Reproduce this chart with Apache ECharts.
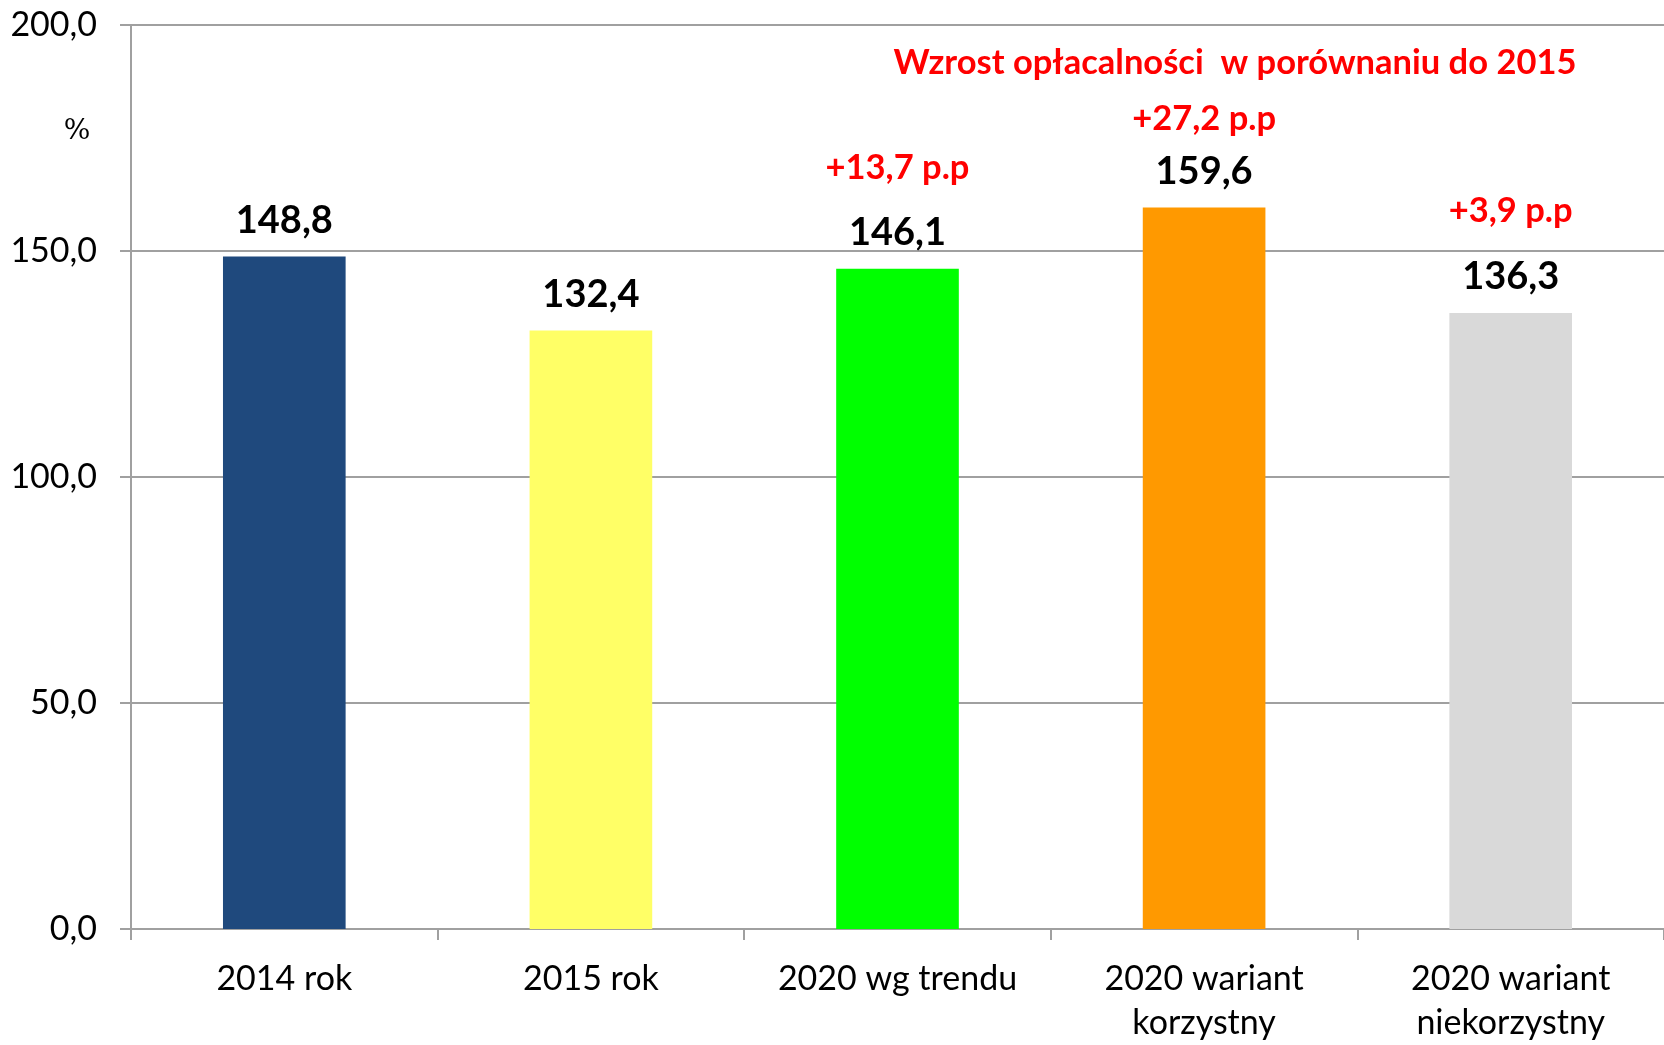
<!DOCTYPE html>
<html><head><meta charset="utf-8">
<script src="https://cdn.jsdelivr.net/npm/echarts@6/dist/echarts.min.js"></script>
<style>html,body{margin:0;padding:0;background:#fff}#c{width:1664px;height:1045px}</style>
</head><body><div id="c"></div>
<script>
const categories = ['2014 rok', '2015 rok', '2020 wg trendu', '2020 wariant\nkorzystny', '2020 wariant\nniekorzystny'];
const values = [148.8, 132.4, 146.1, 159.6, 136.3];
const deltas = ['', '', '+13,7 p.p', '+27,2 p.p', '+3,9 p.p'];
const deltaGaps = [0, 0, 86, 62, 88];
const barColors = ['#1F497D', '#FFFF66', '#00FF00', '#FF9900', '#D9D9D9'];
const yTicks = [0, 50, 100, 150, 200];
const titleText = 'Wzrost opłacalności  w porównaniu do 2015';
const unitText = '%';

const fmt = v => v.toFixed(1).replace('.', ',');
const FONT = 'Lato';
const chart = echarts.init(document.getElementById('c'), null, {renderer: 'canvas'});

const data = values.map((v, i) => {
  const item = {value: v, itemStyle: {color: barColors[i]}};
  if (deltas[i]) {
    item.label = {
      formatter: '{d|' + deltas[i] + '}\n{v|' + fmt(v) + '}',
      rich: {
        d: {color: '#FF0000', fontFamily: FONT, fontWeight: 'bold', fontSize: 34.5, lineHeight: deltaGaps[i]},
        v: {color: '#000', fontFamily: FONT, fontWeight: 'bold', fontSize: 38, lineHeight: 44}
      }
    };
  }
  return item;
});

chart.setOption({
  backgroundColor: '#ffffff',
  animation: false,
  grid: {left: 131, top: 25, width: 1545, height: 910, containLabel: false},
  xAxis: {
    type: 'category',
    data: categories,
    boundaryGap: true,
    axisLine: {lineStyle: {color: '#A0A0A0', width: 2}},
    axisTick: {show: true, length: 11, lineStyle: {color: '#A0A0A0', width: 2}},
    axisLabel: {color: '#000', fontFamily: FONT, fontSize: 34, lineHeight: 44, margin: 28, interval: 0}
  },
  yAxis: {
    type: 'value',
    min: yTicks[0], max: yTicks[yTicks.length - 1], interval: yTicks[1] - yTicks[0],
    axisLine: {show: true, lineStyle: {color: '#A0A0A0', width: 2}},
    axisTick: {show: true, length: 11, lineStyle: {color: '#A0A0A0', width: 2}},
    splitLine: {show: true, lineStyle: {color: '#A0A0A0', width: 2}},
    axisLabel: {color: '#000', fontFamily: FONT, fontSize: 34, margin: 34, formatter: v => fmt(v)}
  },
  graphic: [
    {type: 'text', x: 1235, y: 63, style: {text: titleText, fill: '#FF0000', font: 'bold 34.5px ' + FONT, align: 'center', verticalAlign: 'middle'}},
    {type: 'text', x: 77, y: 132, style: {text: unitText, fill: '#000', font: '28px "DejaVu Serif"', align: 'center', verticalAlign: 'middle'}}
  ],
  series: [{
    type: 'bar',
    data: data,
    barWidth: '40%',
    label: {
      show: true, position: 'top', distance: 14,
      color: '#000', fontFamily: FONT, fontWeight: 'bold', fontSize: 38, lineHeight: 44,
      formatter: p => fmt(p.value)
    }
  }]
});
</script></body></html>
